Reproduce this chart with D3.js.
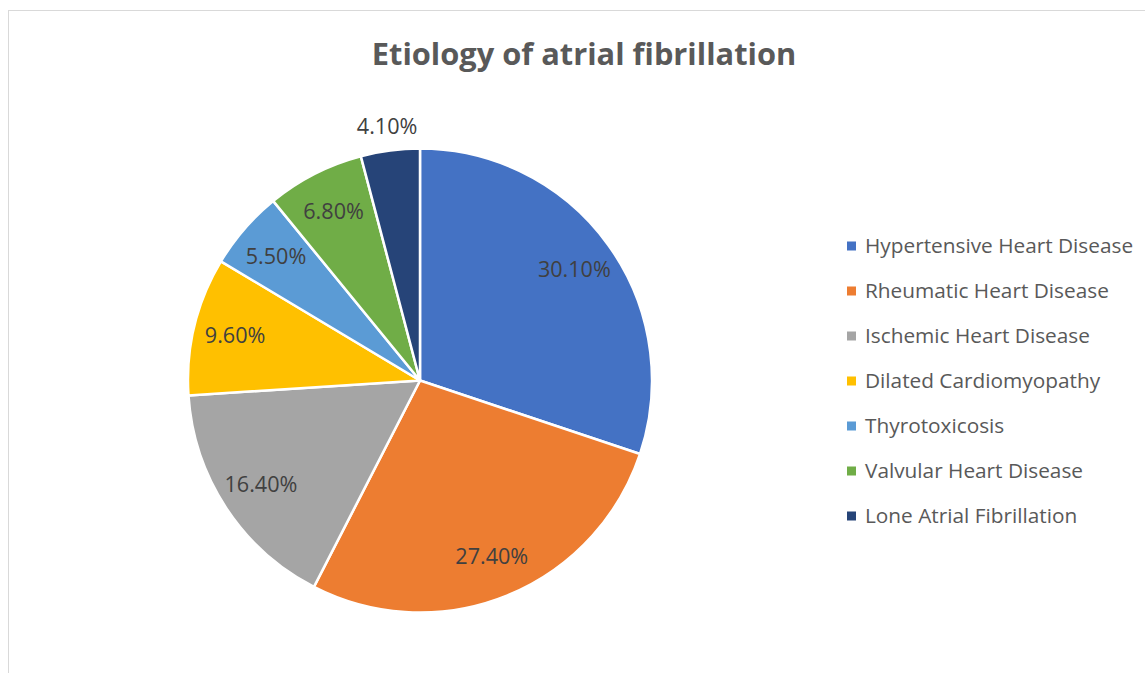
<!DOCTYPE html>
<html>
<head>
<meta charset="utf-8">
<script src="https://cdn.jsdelivr.net/npm/d3@7"></script>
<style>
  html, body { margin: 0; padding: 0; background: #fff; }
  svg { display: block; font-family: "Open Sans", Lato, sans-serif; }
</style>
</head>
<body>
<div id="chart"></div>
<script>
const categories = [
  'Hypertensive Heart Disease',
  'Rheumatic Heart Disease',
  'Ischemic Heart Disease',
  'Dilated Cardiomyopathy',
  'Thyrotoxicosis',
  'Valvular Heart Disease',
  'Lone Atrial Fibrillation'
];
const values = [30.1, 27.4, 16.4, 9.6, 5.5, 6.8, 4.1];
const valueLabels = ['30.10%', '27.40%', '16.40%', '9.60%', '5.50%', '6.80%', '4.10%'];
const colors = ['#4472C4', '#ED7D31', '#A5A5A5', '#FFC000', '#5B9BD5', '#70AD47', '#264478'];
const title = 'Etiology of atrial fibrillation';

const width = 1145;
const height = 673;
const cx = 420, cy = 380.5, radius = 232;

const svg = d3.select('#chart')
  .append('svg')
  .attr('width', width)
  .attr('height', height);

// chart area border
svg.append('rect')
  .attr('x', 8.5).attr('y', 10.5)
  .attr('width', 1150).attr('height', 670)
  .attr('fill', '#fff')
  .attr('stroke', '#d9d9d9')
  .attr('stroke-width', 1);

svg.append('text')
  .attr('x', 584).attr('y', 65)
  .attr('text-anchor', 'middle')
  .attr('font-size', 30.8)
  .attr('font-weight', 'bold')
  .attr('fill', '#595959')
  .text(title);

const color = d3.scaleOrdinal().domain(categories).range(colors);

const pie = d3.pie().sort(null).value((d, i) => values[i]);
const arcs = pie(categories);

const arc = d3.arc().innerRadius(0).outerRadius(radius);
const labelArc = d3.arc().innerRadius(radius * 0.82).outerRadius(radius * 0.82);
const outerArc = d3.arc().innerRadius(radius + 24).outerRadius(radius + 24);

const g = svg.append('g').attr('transform', `translate(${cx},${cy})`);

g.selectAll('path')
  .data(arcs)
  .enter().append('path')
    .attr('d', arc)
    .attr('fill', d => color(d.data))
    .attr('stroke', '#fff')
    .attr('stroke-width', 2.5)
    .attr('stroke-linejoin', 'round');

// data labels: inside unless the slice is too narrow for the text
const labels = g.selectAll('text.lbl')
  .data(arcs)
  .enter().append('text')
    .attr('class', 'lbl')
    .attr('text-anchor', 'middle')
    .attr('dy', '0.35em')
    .attr('font-size', 21.6)
    .attr('fill', '#404040')
    .text((d, i) => valueLabels[i]);

labels.each(function(d) {
  const w = this.getComputedTextLength();
  const room = 2 * radius * 0.82 * Math.sin((d.endAngle - d.startAngle) / 2);
  const p = room > w ? labelArc.centroid(d) : outerArc.centroid(d);
  d3.select(this).attr('x', p[0]).attr('y', p[1]);
});

// legend
const legend = svg.append('g').attr('transform', 'translate(847,246)');
const item = legend.selectAll('g')
  .data(categories)
  .enter().append('g')
    .attr('transform', (d, i) => `translate(0,${i * 45})`);

item.append('rect')
  .attr('x', 0).attr('y', -4.5)
  .attr('width', 9).attr('height', 9)
  .attr('fill', d => color(d));

item.append('text')
  .attr('x', 18).attr('dy', '0.35em')
  .attr('font-size', 20.8)
  .attr('fill', '#595959')
  .text(d => d);
</script>
</body>
</html>
